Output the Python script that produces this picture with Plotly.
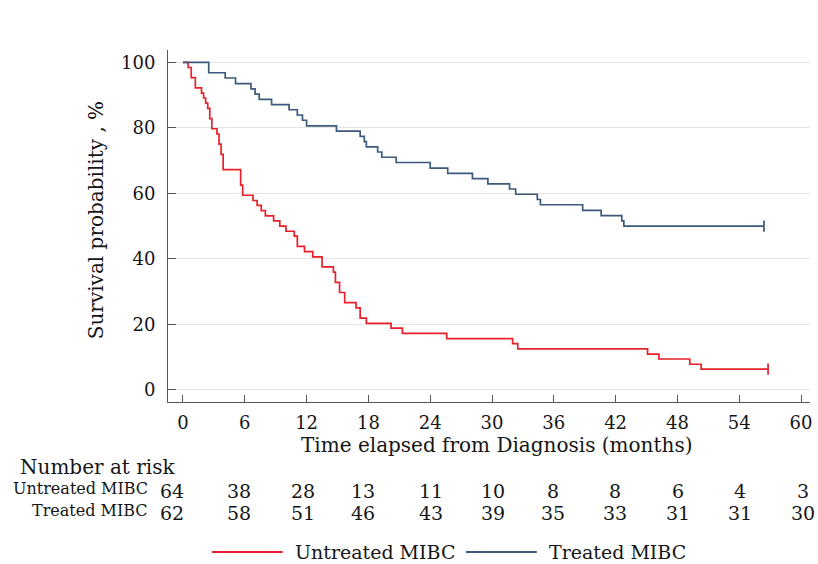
import plotly.graph_objects as go

# ---------------- data ----------------
untreated_t = [0, 0.5, 0.8, 1.2, 1.8, 2.0, 2.2, 2.4, 2.6, 2.8, 3.3, 3.5, 3.7, 3.9, 5.6,
               5.8, 6.8, 7.2, 7.6, 8.0, 8.8, 9.4, 10.0, 10.8, 11.1, 11.8, 12.6, 13.5, 14.6,
               14.8, 15.2, 15.7, 16.8, 17.2, 17.8, 20.2, 21.3, 25.6, 32.0, 32.5, 45.1,
               46.2, 49.2, 50.3, 56.8]
untreated_s = [100, 98.4, 95.3, 92.2, 90.6, 89.1, 87.5, 85.9, 82.8, 79.7, 78.1, 75.0, 71.9,
               67.2, 62.5, 59.4, 57.8, 56.3, 54.7, 53.1, 51.6, 50.0, 48.4, 46.9, 43.8, 42.2,
               40.6, 37.5, 35.9, 32.8, 29.7, 26.6, 25.0, 21.9, 20.3, 18.8, 17.2, 15.6, 14.1,
               12.5, 10.9, 9.4, 7.8, 6.3, 6.3]

treated_t = [0, 2.5, 4.1, 5.1, 6.6, 7.0, 7.4, 8.6, 10.3, 11.1, 11.6, 12.0, 14.9, 17.2, 17.6,
             17.8, 18.9, 19.3, 20.7, 24.0, 25.7, 28.1, 29.6, 31.7, 32.3, 34.4, 34.7, 38.8,
             40.6, 42.6, 42.8, 56.4]
treated_s = [100, 96.8, 95.2, 93.5, 91.9, 90.3, 88.7, 87.1, 85.5, 83.9, 82.3, 80.6, 79.0,
             77.4, 75.8, 74.2, 72.6, 71.0, 69.4, 67.7, 66.1, 64.5, 62.9, 61.3, 59.7, 58.1,
             56.5, 54.8, 53.2, 51.6, 50.0, 50.0]

risk_times = [0, 6, 12, 18, 24, 30, 36, 42, 48, 54, 60]
untreated_risk = [64, 38, 28, 13, 11, 10, 8, 8, 6, 4, 3]
treated_risk = [62, 58, 51, 46, 43, 39, 35, 33, 31, 31, 30]

y_ticks = [0, 20, 40, 60, 80, 100]

series_names = ["Untreated MIBC", "Treated MIBC"]
RED = "#e8202a"
BLUE = "#3b5a7c"
FONT = "DejaVu Serif"
TXT = "#151515"

# small horizontal pixel offsets of the risk-table columns (layout, not data)
risk_xshift = [-11, -6, -4, -5, 1, 1, -1, -1, 1, 1, 2]

# ---------------- figure ----------------
fig = go.Figure()
for t, s, name, col in [(untreated_t, untreated_s, series_names[0], RED),
                        (treated_t, treated_s, series_names[1], BLUE)]:
    fig.add_trace(go.Scatter(x=t, y=s, mode="lines", line=dict(color=col, width=1.7, shape="hv"),
                             name=name, showlegend=False, hoverinfo="skip"))
    # censor tick at the end of follow-up
    fig.add_trace(go.Scatter(x=[t[-1]], y=[s[-1]], mode="markers",
                             marker=dict(symbol="line-ns", size=8, line=dict(color=col, width=1.7)),
                             showlegend=False, hoverinfo="skip"))

L, R, T, B = 168, 6, 50, 162
W, H = 818, 564
pw, ph = W - L - R, H - T - B


def px_x(px):
    return (px - L) / pw


def px_y(py):
    return (H - B - py) / ph


ann = []
# axis titles
ann.append(dict(text="Time elapsed from Diagnosis (months)", x=px_x(498), y=px_y(445),
                xref="paper", yref="paper", showarrow=False, xanchor="center", yanchor="middle",
                font=dict(family=FONT, size=20, color=TXT)))
ann.append(dict(text="Survival probability , %", x=px_x(96), y=px_y(220), textangle=-90,
                xref="paper", yref="paper", showarrow=False, xanchor="center", yanchor="middle",
                font=dict(family=FONT, size=20, color=TXT)))
# number at risk table
ann.append(dict(text="Number at risk", x=px_x(18), y=px_y(467), xref="paper", yref="paper",
                showarrow=False, xanchor="left", yanchor="middle",
                font=dict(family=FONT, size=20, color=TXT)))
ann.append(dict(text=series_names[0], x=px_x(150), y=px_y(488), xref="paper", yref="paper",
                showarrow=False, xanchor="right", yanchor="middle",
                font=dict(family=FONT, size=16, color=TXT)))
ann.append(dict(text=series_names[1], x=px_x(150), y=px_y(510), xref="paper", yref="paper",
                showarrow=False, xanchor="right", yanchor="middle",
                font=dict(family=FONT, size=16, color=TXT)))
for tt, u, tr, dx in zip(risk_times, untreated_risk, treated_risk, risk_xshift):
    ann.append(dict(text=str(u), x=tt, y=px_y(491), xref="x", yref="paper", showarrow=False,
                    xshift=dx, xanchor="center", yanchor="middle",
                    font=dict(family=FONT, size=19, color=TXT)))
    ann.append(dict(text=str(tr), x=tt, y=px_y(513), xref="x", yref="paper", showarrow=False,
                    xshift=dx, xanchor="center", yanchor="middle",
                    font=dict(family=FONT, size=19, color=TXT)))

# legend (drawn manually to match the long legend keys)
shapes = []
leg_y = px_y(552)
for (x0, x1, tx), name, col in [((212, 283, 293), series_names[0], RED),
                                ((467, 538, 548), series_names[1], BLUE)]:
    shapes.append(dict(type="line", xref="paper", yref="paper", x0=px_x(x0), x1=px_x(x1),
                       y0=leg_y, y1=leg_y, line=dict(color=col, width=2.2)))
    ann.append(dict(text=name, x=px_x(tx), y=leg_y, xref="paper", yref="paper", showarrow=False,
                    xanchor="left", yanchor="middle", font=dict(family=FONT, size=19, color=TXT)))

fig.update_layout(
    width=W, height=H,
    margin=dict(l=L, r=R, t=T, b=B, pad=0),
    paper_bgcolor="white", plot_bgcolor="white",
    font=dict(family=FONT, color=TXT),
    annotations=ann, shapes=shapes,
    showlegend=False,
)
fig.update_xaxes(range=[-1.454, 60.87], tickvals=risk_times, ticks="inside", ticklen=7,
                 tickcolor="#555555", showline=True, linecolor="#555555", linewidth=1,
                 showgrid=False, zeroline=False, tickfont=dict(family=FONT, size=18, color=TXT),
                 ticklabelstandoff=4)
fig.update_yaxes(range=[-3.73, 103.75], tickvals=y_ticks, ticks="inside", ticklen=8,
                 tickcolor="#555555", showline=True, linecolor="#555555", linewidth=1,
                 showgrid=True, gridcolor="#e4e4e4", gridwidth=1, zeroline=False,
                 tickfont=dict(family=FONT, size=18, color=TXT), ticklabelstandoff=8)

fig.write_html("out.html")
